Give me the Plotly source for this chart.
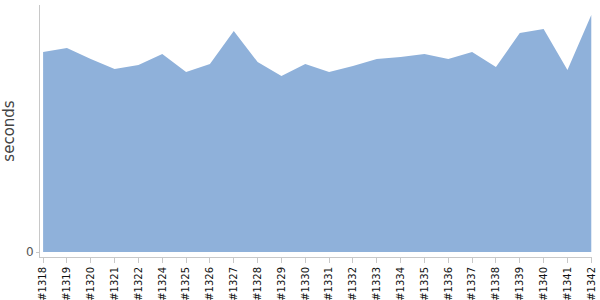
import plotly.graph_objects as go

builds = ["#1318", "#1319", "#1320", "#1321", "#1322", "#1324", "#1325", "#1326",
          "#1327", "#1328", "#1329", "#1330", "#1331", "#1332", "#1333", "#1334",
          "#1335", "#1336", "#1337", "#1338", "#1339", "#1340", "#1341", "#1342"]
seconds = [200, 204, 193, 183, 187, 198, 180, 188, 221, 190, 176, 188,
           180, 186, 193, 195, 198, 193, 200, 185, 219, 223, 182, 237]

fig = go.Figure()
fig.add_trace(go.Scatter(
    x=list(range(len(builds))), y=seconds, mode="lines", fill="tozeroy",
    fillcolor="#8fb1da", line=dict(width=0, color="#8fb1da"),
    hoverinfo="skip", showlegend=False))

fig.update_layout(
    width=600, height=300,
    margin=dict(l=40, r=8, t=5, b=43),
    paper_bgcolor="white", plot_bgcolor="white",
    font=dict(family="DejaVu Sans", color="#333"),
    xaxis=dict(
        tickmode="array", tickvals=list(range(len(builds))), ticktext=builds,
        tickangle=-90, tickfont=dict(size=10, color="#111"), automargin=False,
        range=[-0.13, len(builds) - 1 + 0.03],
        showgrid=False, zeroline=False, showline=True, linecolor="#c8c8c8",
        linewidth=1, ticks="outside", ticklen=5, tickcolor="#c8c8c8"),
    yaxis=dict(
        tickvals=[0], ticktext=["0"], range=[-5, 247], automargin=False,
        tickfont=dict(size=12, color="#555"),
        title=dict(text="seconds", font=dict(size=15, color="#444"), standoff=8),
        showgrid=False, zeroline=False, showline=True, linecolor="#c8c8c8",
        linewidth=1, ticks="outside", ticklen=3, tickcolor="#c8c8c8"),
)

fig.write_html("out.html")
